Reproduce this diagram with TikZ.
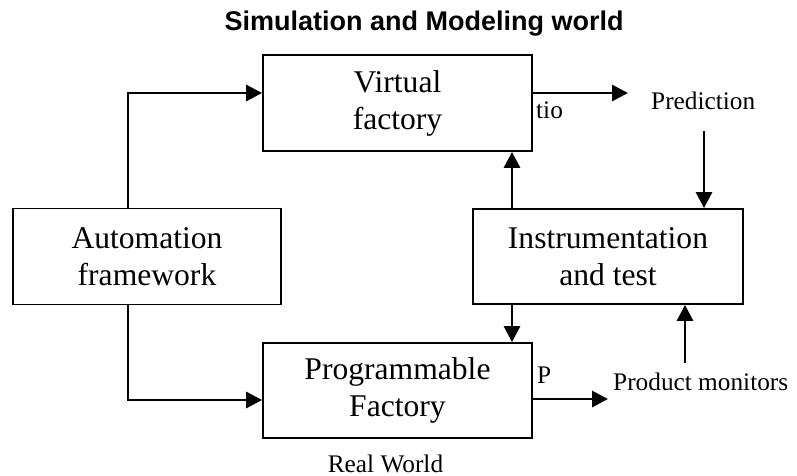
\documentclass[tikz,border=0pt]{standalone}
\usepackage{fontspec}
\setmainfont{Liberation Serif}
\setsansfont{Liberation Sans}
\usetikzlibrary{arrows.meta}
\begin{document}
\begin{tikzpicture}[x=1pt,y=-1pt,
  box/.style={draw,line width=1.8pt,inner sep=0pt,align=center,
    font=\fontsize{31.6}{37}\selectfont},
  lbl/.style={inner sep=0pt,font=\fontsize{25.3}{30}\selectfont},
  arr/.style={line width=2.9pt,-{Triangle[length=16pt,width=16pt]}},
  wire/.style={line width=2pt}]
\useasboundingbox (0,0) rectangle (797,476);
\node[inner sep=0pt,anchor=base,font=\sffamily\bfseries\fontsize{27}{32}\selectfont] (title) at (424,31) {Simulation and Modeling world};
\node[box,minimum width=269pt,minimum height=96pt] (vf) at (397.5,103) {Virtual\\factory};
\node[box,minimum width=268pt,minimum height=96pt] (af) at (147,256.5) {Automation\\framework};
\node[box,minimum width=270pt,minimum height=95pt] (it) at (608,256.5) {Instrumentation\\and test};
\node[box,minimum width=269pt,minimum height=95pt] (pf) at (397.5,390.5) {Programmable\\Factory};
\node[lbl,anchor=base west] (pred) at (651,110) {Prediction};
\node[lbl,anchor=base west] (tio) at (536,119) {tio};
\node[lbl,anchor=base west] (p) at (537,383) {P};
\node[lbl,anchor=base west] (pm) at (613,390) {Product monitors};
\node[lbl,anchor=base] (rw) at (385.5,472) {Real World};
\coordinate (cL) at (128,93);
\coordinate (cB) at (128,400);
\coordinate (pa) at (628,93);
\coordinate (pd) at (704,131);
\coordinate (cx) at (512,280);
\coordinate (po) at (608,399);
\coordinate (pmu) at (685,363);
\draw[wire] (af.north -| cL) -- (cL);
\draw[arr] ([xshift=-1pt]cL) -- (vf.west |- cL);
\draw[wire] (af.south -| cB) -- (cB);
\draw[arr] ([xshift=-1pt]cB) -- (pf.west |- cB);
\draw[arr] (vf.east |- pa) -- (pa);
\draw[arr] (pd) -- (pd |- it.north);
\draw[arr] (it.north -| cx) -- (vf.south -| cx);
\draw[arr] (it.south -| cx) -- (pf.north -| cx);
\draw[arr] (pf.east |- po) -- (po);
\draw[arr] (pmu) -- (pmu |- it.south);
\end{tikzpicture}
\end{document}
